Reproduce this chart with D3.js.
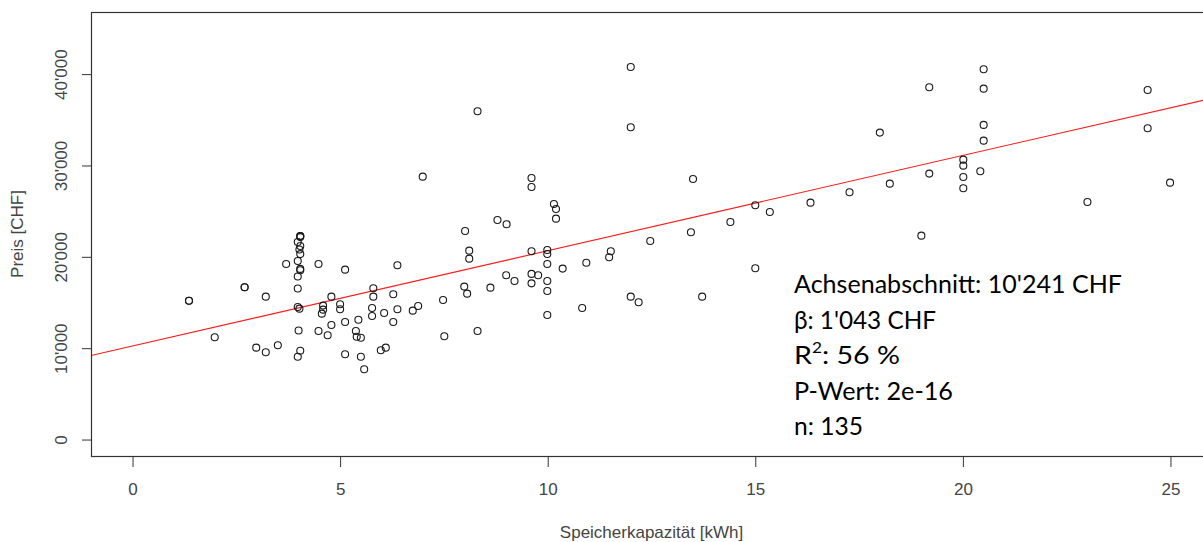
<!DOCTYPE html>
<html><head><meta charset="utf-8">
<script src="https://cdn.jsdelivr.net/npm/d3@7"></script>
<style>body{margin:0;background:#fff;} svg{display:block;}</style>
</head><body>
<svg id="c" width="1203" height="542"></svg>
<script>
// Speicherkapazität [kWh]
const capacity = [
  1.36,1.36,2.70,2.70,1.98,2.98,3.21,3.21,3.50,3.70,
  4.04,4.04,4.04,3.98,4.04,4.02,4.04,3.98,4.04,4.04,3.98,3.98,3.98,4.02,4.00,4.04,3.98,
  4.48,5.12,6.38,8.01,8.11,8.11,7.99,8.06,7.48,7.51,8.31,5.80,5.80,6.28,4.79,4.59,4.59,4.56,5.00,5.00,
  5.77,5.77,6.06,6.38,6.75,6.88,6.28,5.44,5.12,4.79,4.48,4.70,5.38,5.40,5.50,5.12,5.50,5.98,6.10,5.58,6.99,
  8.31,12.00,12.00,9.61,9.61,10.15,10.20,10.20,8.79,9.01,9.61,9.99,9.99,9.99,11.52,11.48,10.93,10.36,
  9.00,9.20,9.61,9.77,9.61,9.99,9.99,8.62,12.00,12.19,10.83,9.99,
  13.50,12.47,13.45,14.40,15.00,15.35,16.33,17.27,15.00,13.72,
  20.50,20.50,19.19,24.45,20.50,20.50,24.45,18.00,20.01,20.01,20.01,20.01,20.42,19.19,18.24,23.00,24.99,19.00
];
// Preis [CHF]
const price = [
  15200,15200,16670,16670,11200,10060,9560,15640,10320,19220,
  22270,22270,22160,21630,21180,20800,20300,19550,18680,18530,17850,16530,14510,14330,11940,9720,9070,
  19220,18600,19080,22830,20680,19800,16740,15970,15280,11310,11890,16560,15640,15900,15640,14660,14220,13780,14810,14260,
  14400,13530,13860,14260,14110,14620,12870,13120,12870,12540,11890,11420,11890,11260,11150,9340,9070,9770,10060,7690,28780,
  35930,40780,34180,28630,27650,25790,25240,24180,24040,23570,20610,20750,20310,19220,20610,19950,19360,18710,
  17980,17360,18130,17980,17100,17360,16260,16630,15640,15030,14400,13640,
  28520,21740,22690,23820,25640,24910,25930,27070,18750,15640,
  40530,38410,38560,38270,34440,32720,34070,33600,30640,29980,28740,27500,29370,29110,28010,26010,28120,22320
];
const xTicks = [0, 5, 10, 15, 20, 25];
const yTicks = [0, 10000, 20000, 30000, 40000];
const yTickLabels = ["0", "10'000", "20'000", "30'000", "40'000"];
const xDomain = [-1, 26];
const yDomain = [-1800, 46800];
const intercept = 10241, slope = 1043;
const statLines = ["Achsenabschnitt: 10'241 CHF", "β: 1'043 CHF", "R|2|: 56 %", "P-Wert: 2e-16", "n: 135"];
const xTitle = "Speicherkapazität [kWh]";
const yTitle = "Preis [CHF]";

const svg = d3.select("#c");
const L = 91, T = 12, R = 1212, B = 456;
const x = d3.scaleLinear().domain(xDomain).range([L, R]);
const y = d3.scaleLinear().domain(yDomain).range([B, T]);
const axisFont = "'Liberation Sans', Arial, sans-serif";

svg.append("defs").append("clipPath").attr("id","pc")
  .append("rect").attr("x",L).attr("y",T).attr("width",R-L).attr("height",B-T);

// regression line
svg.append("line")
  .attr("clip-path","url(#pc)")
  .attr("x1", x(xDomain[0])).attr("y1", y(intercept + slope*xDomain[0]))
  .attr("x2", x(xDomain[1])).attr("y2", y(intercept + slope*xDomain[1]))
  .attr("stroke","#ff1a1a").attr("stroke-width",1.1);

// points
svg.append("g").selectAll("circle").data(capacity.map((c,i)=>[c,price[i]]))
  .join("circle")
  .attr("cx", d=>x(d[0])).attr("cy", d=>y(d[1])).attr("r", 3.5)
  .attr("fill","none").attr("stroke","#1a1a1a").attr("stroke-width",1.1);

// box
svg.append("rect").attr("x",L+0.5).attr("y",T+0.5).attr("width",R-L).attr("height",B-T)
  .attr("fill","none").attr("stroke","#333").attr("stroke-width",1.2);

// x axis
const gx = svg.append("g").attr("transform",`translate(0,${B})`)
  .call(d3.axisBottom(x).tickValues(xTicks).tickSize(11).tickFormat(d3.format("d")));
gx.select(".domain").remove();
gx.selectAll(".tick line").attr("stroke","#333");
gx.selectAll("text").attr("y",39).attr("dy",null)
  .attr("font-family",axisFont).attr("font-size",17).attr("fill","#444");

// y axis
const gy = svg.append("g").attr("transform",`translate(${L},0)`)
  .call(d3.axisLeft(y).tickValues(yTicks).tickSize(9).tickFormat((d,i)=>yTickLabels[i]));
gy.select(".domain").remove();
gy.selectAll(".tick line").attr("stroke","#333");
gy.selectAll("text").attr("x",null).attr("dy",null)
  .attr("transform","translate(-24,0) rotate(-90)")
  .attr("text-anchor","middle")
  .attr("font-family",axisFont).attr("font-size",17).attr("fill","#444");

// titles
svg.append("text").attr("x",(L+R)/2).attr("y",538).attr("text-anchor","middle")
  .attr("font-family",axisFont).attr("font-size",17).attr("fill","#444").text(xTitle);
svg.append("text").attr("transform",`translate(23,${(T+B)/2}) rotate(-90)`).attr("text-anchor","middle")
  .attr("font-family",axisFont).attr("font-size",17).attr("fill","#444").text(yTitle);

// statistics annotation
const statWidths = [328, 142, 106, 159, 69];
statLines.forEach((s,i)=>{
  const t = svg.append("text").attr("x",794).attr("y",293 + i*35.5)
    .attr("font-family","Lato, 'Open Sans', sans-serif").attr("font-size",25).attr("fill","#000")
    .attr("textLength",statWidths[i]).attr("lengthAdjust","spacingAndGlyphs");
  const parts = s.split("|");
  if (parts.length === 3) {
    t.append("tspan").text(parts[0]);
    t.append("tspan").attr("font-size",15).attr("dy",-11).text(parts[1]);
    t.append("tspan").attr("dy",11).text(parts[2]);
  } else {
    t.text(s);
  }
});
</script>
</body></html>
